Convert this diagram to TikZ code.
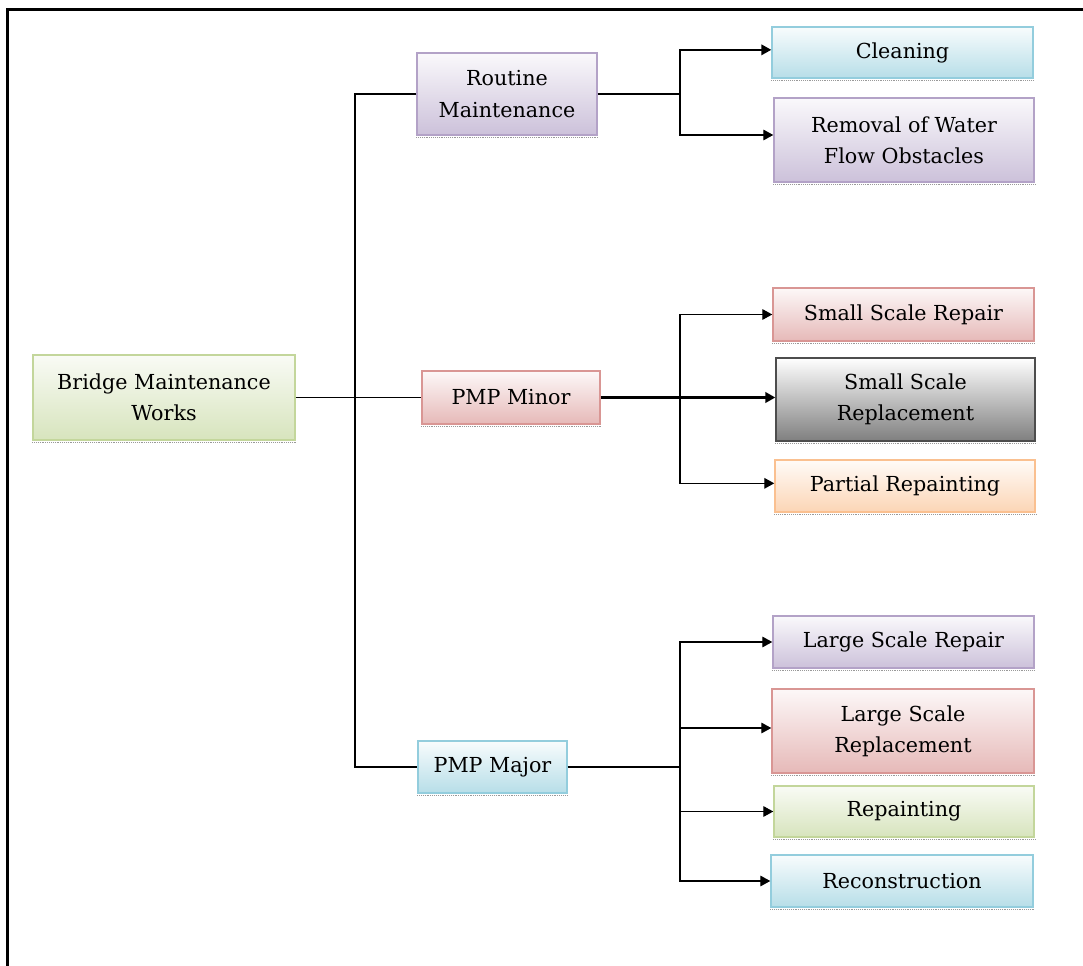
\documentclass[tikz,border=0pt]{standalone}
\usepackage{fontspec}
\setmainfont{DejaVu Serif}
\usetikzlibrary{arrows.meta}
\definecolor{grnF}{HTML}{D7E4BD}\definecolor{grnL}{HTML}{C3D69B}
\definecolor{purF}{HTML}{CCC1DA}\definecolor{purL}{HTML}{B3A2C7}
\definecolor{pnkF}{HTML}{E6B9B8}\definecolor{pnkL}{HTML}{D99694}
\definecolor{bluF}{HTML}{B7DEE8}\definecolor{bluL}{HTML}{93CDDD}
\definecolor{gryF}{HTML}{7F7F7F}\definecolor{gryL}{HTML}{4D4D4D}
\definecolor{orgF}{HTML}{FCD5B5}\definecolor{orgL}{HTML}{FAC090}
\tikzset{
  box/.style={line width=1.1pt, align=center, inner sep=0pt,
    font=\fontsize{15.5}{23.5}\selectfont},
  bgreen/.style={box, draw=grnL, top color=grnF!15, bottom color=grnF},
  bpurple/.style={box, draw=purL, top color=purF!10, bottom color=purF},
  bpink/.style={box, draw=pnkL, top color=pnkF!10, bottom color=pnkF},
  bblue/.style={box, draw=bluL, top color=bluF!10, bottom color=bluF},
  bgray/.style={box, draw=gryL, top color=white, bottom color=gryF},
  borange/.style={box, draw=orgL, top color=orgF!10, bottom color=orgF},
  conn/.style={line width=0.9pt, black},
  arr/.style={conn, -{Triangle[length=7.5pt,width=8pt]}},
  shadowline/.style={gray!80, line width=1.4pt, dash pattern=on 0.7pt off 0.7pt},
  frameline/.style={line width=1.8pt, black}
}
\begin{document}
\begin{tikzpicture}[x=0.75pt, y=-0.75pt]
\useasboundingbox (0,0) rectangle (1083,966);
\draw[frameline] (7.5,966) -- (7.5,9.5) -- (1083,9.5);

% level 0 and 1
\node[bgreen, minimum width=196.5pt, minimum height=63.75pt] (bmw) at (164,397.5) {Bridge Maintenance\\Works};
\node[bpurple, minimum width=135pt, minimum height=61.5pt] (rm) at (507,94) {Routine\\Maintenance};
\node[bpink, minimum width=133.5pt, minimum height=39.75pt] (pmin) at (511,397.5) {PMP Minor};
\node[bblue, minimum width=111.75pt, minimum height=39pt] (pmaj) at (492.5,767) {PMP Major};

% level 2
\node[bblue, minimum width=195.75pt, minimum height=38.25pt] (clean) at (902.5,52.5) {Cleaning};
\node[bpurple, minimum width=195pt, minimum height=63pt] (rem) at (904,140) {Removal of Water\\Flow Obstacles};
\node[bpink, minimum width=195.75pt, minimum height=39.75pt] (ssr) at (903.5,314.5) {Small Scale Repair};
\node[bgray, minimum width=194.25pt, minimum height=62.25pt] (ssrep) at (905.5,399.5) {Small Scale\\Replacement};
\node[borange, minimum width=195pt, minimum height=39pt] (pr) at (905,486) {Partial Repainting};
\node[bpurple, minimum width=195.75pt, minimum height=39pt] (lsr) at (903.5,642) {Large Scale Repair};
\node[bpink, minimum width=196.5pt, minimum height=63pt] (lsrep) at (903,731) {Large Scale\\Replacement};
\node[bgreen, minimum width=195pt, minimum height=38.25pt] (rep) at (904,811.5) {Repainting};
\node[bblue, minimum width=196.5pt, minimum height=39pt] (rec) at (902,881) {Reconstruction};

\foreach \n in {bmw,rm,pmin,pmaj,clean,rem,ssr,ssrep,pr,lsr,lsrep,rep,rec}
  \draw[shadowline] ([yshift=-1.3pt]\n.south west) -- ([yshift=-1.3pt]\n.south east);

\coordinate (tx) at (355,0);
\coordinate (bx) at (680,0);

% trunk
\draw[conn] (bmw.east) -- (pmin.west);
\draw[conn] (rm.west) -- (rm.west -| tx) -- (pmaj.west -| tx) -- (pmaj.west);

% routine branch
\draw[conn] (rm.east) -- (rm.east -| bx);
\draw[arr, line width=1.3pt] (rm.east -| bx) |- ([yshift=2pt]clean.west);
\draw[arr] (rm.east -| bx) |- ([yshift=3.75pt]rem.west);

% PMP minor branch
\draw[arr, line width=1.6pt] (pmin.east) -- (pmin.east -| ssrep.west);
\draw[arr] (pmin.east -| bx) |- (ssr.west);
\draw[arr] (pmin.east -| bx) |- ([yshift=2pt]pr.west);

% PMP major branch
\draw[conn] (pmaj.east) -- (pmaj.east -| bx);
\draw[arr] (pmaj.east -| bx) |- (lsr.west);
\draw[arr] (pmaj.east -| bx) |- ([yshift=2.25pt]lsrep.west);
\draw[arr] (pmaj.east -| bx) |- (rep.west);
\draw[arr] (pmaj.east -| bx) |- (rec.west);
\end{tikzpicture}
\end{document}
